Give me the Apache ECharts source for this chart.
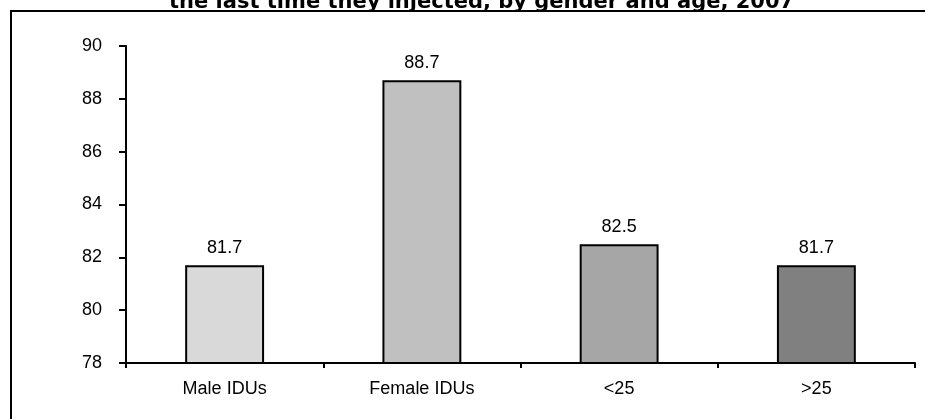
<!DOCTYPE html>
<html>
<head>
<meta charset="utf-8">
<script src="https://cdn.jsdelivr.net/npm/echarts@6/dist/echarts.min.js"></script>
<style>
  html, body { margin: 0; padding: 0; background: #fff; }
  #chart { width: 925px; height: 419px; }
</style>
</head>
<body>
<div id="chart"></div>
<script>
// Share of IDUs by gender and age group
const titleText = 'the last time they injected, by gender and age, 2007';
const categories = ['Male IDUs', 'Female IDUs', '<25', '>25'];
const values = [81.7, 88.7, 82.5, 81.7];
const barColors = ['#d9d9d9', '#c0c0c0', '#a6a6a6', '#808080'];
const yTicks = { min: 78, max: 90, interval: 2 };

const chart = echarts.init(document.getElementById('chart'), null, { renderer: 'canvas' });

chart.setOption({
  animation: false,
  backgroundColor: '#ffffff',
  title: {
    text: titleText,
    left: 164,
    top: -13,
    textStyle: {
      fontFamily: 'DejaVu Sans',
      fontWeight: 'bold',
      fontSize: 21,
      color: '#000'
    }
  },
  graphic: [{
    type: 'rect',
    silent: true,
    z: -1,
    shape: { x: 11, y: 11, width: 1000, height: 500 },
    style: { fill: 'none', stroke: '#000', lineWidth: 2 }
  }],
  grid: { left: 126, right: 10, top: 46, bottom: 56, containLabel: false },
  xAxis: {
    type: 'category',
    data: categories,
    axisLine: { lineStyle: { color: '#000', width: 2 } },
    axisTick: { show: true, alignWithLabel: false, length: 5, lineStyle: { color: '#000', width: 2 } },
    axisLabel: { color: '#000', fontFamily: 'Liberation Sans', fontSize: 18, margin: 17 },
    splitLine: { show: false }
  },
  yAxis: {
    type: 'value',
    min: yTicks.min,
    max: yTicks.max,
    interval: yTicks.interval,
    axisLine: { show: true, lineStyle: { color: '#000', width: 2 } },
    axisTick: { show: true, length: 7, lineStyle: { color: '#000', width: 2 } },
    axisLabel: { color: '#000', fontFamily: 'Liberation Sans', fontSize: 18, margin: 24 },
    splitLine: { show: false }
  },
  series: [{
    type: 'bar',
    barWidth: '40%',
    data: values.map((v, i) => ({
      value: v,
      itemStyle: { color: barColors[i], borderColor: '#000', borderWidth: 2 }
    })),
    label: {
      show: true,
      position: 'top',
      distance: 8,
      color: '#000',
      fontFamily: 'Liberation Sans',
      fontSize: 18,
      formatter: p => p.value.toFixed(1)
    }
  }]
});
</script>
</body>
</html>
